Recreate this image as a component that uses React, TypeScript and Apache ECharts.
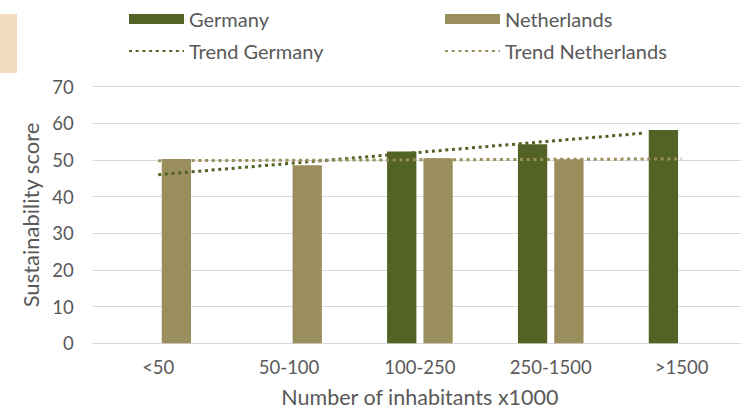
import React, { useEffect, useRef } from "react";
import * as echarts from "echarts";

const categories = ["<50", "50-100", "100-250", "250-1500", ">1500"];
const germany = [null, null, 52.3, 54.3, 58.2];
const netherlands = [50.3, 48.6, 50.5, 50.2, null];
// trend lines: [category position, value]
const trendGermany = [
  [0, 46.0],
  [3.7, 57.3],
];
const trendNetherlands = [
  [0, 49.8],
  [4, 50.3],
];
const yTicks = { min: 0, max: 70, interval: 10 };

const GER = "#536225";
const NL = "#9A8E5C";
const TXT = "#595959";
const FONT = "Lato";

export default function App() {
  const ref = useRef<HTMLDivElement>(null);
  useEffect(() => {
    if (!ref.current) return;
    const chart = echarts.init(ref.current, undefined, { renderer: "svg" });
    const dotted = [3, 3.7];
    const legendText = { color: TXT, fontSize: 20, lineHeight: 22, fontFamily: FONT };
    chart.setOption({
      animation: false,
      backgroundColor: "#ffffff",
      textStyle: { fontFamily: FONT },
      graphic: [
        {
          type: "rect",
          shape: { x: 0, y: 14, width: 17, height: 59 },
          style: { fill: "#F3DBBE" },
        },
      ],
      legend: [
        {
          orient: "vertical",
          left: 128,
          top: 8,
          padding: 0,
          itemWidth: 55,
          itemHeight: 10,
          itemGap: 10,
          data: [
            { name: "Germany", icon: "rect" },
            { name: "Trend Germany", itemStyle: { opacity: 0 } },
          ],
          textStyle: legendText,
        },
        {
          orient: "vertical",
          left: 444,
          top: 8,
          padding: 0,
          itemWidth: 55,
          itemHeight: 10,
          itemGap: 10,
          data: [
            { name: "Netherlands", icon: "rect" },
            { name: "Trend Netherlands", itemStyle: { opacity: 0 } },
          ],
          textStyle: legendText,
        },
      ],
      grid: {
        left: 92.8,
        right: -6,
        top: 86.7,
        bottom: 66.7,
        containLabel: false,
        outerBoundsMode: "none",
      },
      xAxis: [
        {
          type: "category",
          data: categories,
          axisLine: { show: true, lineStyle: { color: "#D9D9D9", width: 1 } },
          axisTick: { show: false },
          axisLabel: { color: TXT, fontSize: 18.5, margin: 14, fontFamily: FONT },
          name: "Number of inhabitants x1000",
          nameLocation: "middle",
          nameGap: 43,
          nameTextStyle: { color: TXT, fontSize: 21.5, fontFamily: FONT },
        },
        {
          type: "value",
          min: -0.5,
          max: 4.5,
          show: false,
        },
      ],
      yAxis: {
        type: "value",
        min: yTicks.min,
        max: yTicks.max,
        interval: yTicks.interval,
        axisLine: { show: false },
        axisTick: { show: false },
        splitLine: { lineStyle: { color: "#D9D9D9", width: 1 } },
        axisLabel: { color: TXT, fontSize: 18.5, margin: 19, fontFamily: FONT },
        name: "Sustainability score",
        nameLocation: "middle",
        nameRotate: 90,
        nameGap: 48,
        nameTextStyle: { color: TXT, fontSize: 22, fontFamily: FONT },
      },
      series: [
        {
          name: "Germany",
          type: "bar",
          data: germany,
          barWidth: 29.3,
          barGap: "24%",
          itemStyle: { color: GER },
        },
        {
          name: "Netherlands",
          type: "bar",
          data: netherlands,
          barWidth: 29.3,
          barGap: "24%",
          itemStyle: { color: NL },
        },
        {
          name: "Trend Germany",
          type: "line",
          xAxisIndex: 1,
          data: trendGermany,
          symbol: "none",
          lineStyle: { color: GER, width: 3, type: dotted },
          itemStyle: { color: GER },
          z: 5,
        },
        {
          name: "Trend Netherlands",
          type: "line",
          xAxisIndex: 1,
          data: trendNetherlands,
          symbol: "none",
          lineStyle: { color: NL, width: 3, type: dotted },
          itemStyle: { color: NL },
          z: 5,
        },
      ],
    });
    return () => chart.dispose();
  }, []);
  return (
    <div
      ref={ref}
      style={{ position: "fixed", left: 0, top: 0, width: 741, height: 410 }}
    />
  );
}
